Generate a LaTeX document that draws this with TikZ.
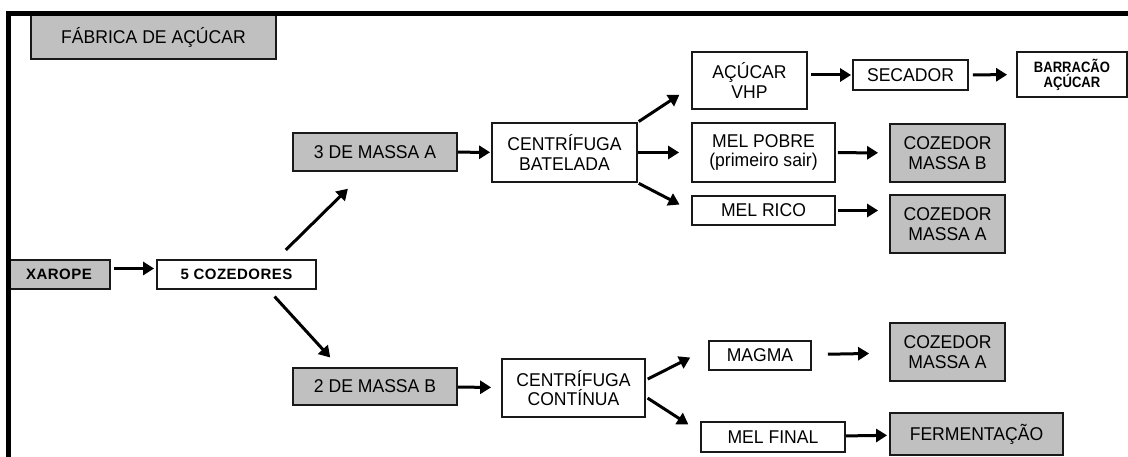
\documentclass[tikz,border=0pt]{standalone}
\usepackage{fontspec}
\setmainfont{Liberation Sans}[FakeStretch=0.95]
\newfontfamily\spacedsans[LetterSpace=3]{Liberation Sans}
\newfontfamily\narrowsans[FakeStretch=0.87]{Liberation Sans}
\usetikzlibrary{arrows.meta}
\usetikzlibrary{calc}
\definecolor{boxgrey}{RGB}{192,192,192}

\begin{document}
\begin{tikzpicture}[x=1pt, y=-1pt,
        box/.style={draw=black!90, line width=1.8pt, fill=white, inner sep=0pt, align=center,
            font=\fontsize{18.5}{19.5}\selectfont},
        greybox/.style={box, fill=boxgrey},
        smallbold/.style={font=\spacedsans\bfseries\fontsize{15}{18}\selectfont},
        flow/.style={line width=3pt, -{Triangle[length=11pt, width=13pt]}}]
        \useasboundingbox (0,0) rectangle (1128,457);

        \node[greybox, minimum width=245pt, minimum height=44pt] (titulo) at (153.5,37) {FÁBRICA DE AÇÚCAR};

        \node[greybox, smallbold, minimum width=102pt, minimum height=29pt] (xarope) at (59,274.5) {XAROPE};
        \node[box, smallbold, minimum width=159pt, minimum height=29pt] (cozedores) at (236.5,274.5) {5 COZEDORES};

        % ramo da massa A
        \node[greybox, minimum width=164pt, minimum height=38pt] (massaA) at (375,152) {3 DE MASSA A};
        \node[box, minimum width=145pt, minimum height=59pt] (batelada) at (564.5,152.5) {CENTRÍFUGA\\BATELADA};
        \node[box, minimum width=115pt, minimum height=57pt] (vhp) at (749.5,80.5) {AÇÚCAR\\VHP};
        \node[box, minimum width=115pt, minimum height=30pt] (secador) at (910.5,75) {SECADOR};
        \node[box, font=\narrowsans\bfseries\fontsize{15}{15}\selectfont, minimum width=110pt, minimum height=45pt] (barracao) at (1072,74.5) {BARRACÃO\\AÇÚCAR};
        \node[box, minimum width=143pt, minimum height=59pt] (melpobre) at (763.5,152.5) {MEL POBRE\\(primeiro sair)};
        \node[greybox, minimum width=115pt, minimum height=58pt] (cozB) at (947.5,153) {COZEDOR\\MASSA B};
        \node[box, minimum width=143pt, minimum height=29pt] (melrico) at (763.5,210.5) {MEL RICO};
        \node[greybox, minimum width=115pt, minimum height=58pt] (cozA) at (947.5,224) {COZEDOR\\MASSA A};

        % ramo da massa B
        \node[greybox, minimum width=164pt, minimum height=37pt] (massaB) at (375,386.5) {2 DE MASSA B};
        \node[box, minimum width=143pt, minimum height=58pt] (continua) at (573.5,388) {CENTRÍFUGA\\CONTÍNUA};
        \node[box, minimum width=102pt, minimum height=29pt] (magma) at (760,355.5) {MAGMA};
        \node[greybox, minimum width=115pt, minimum height=58pt] (cozAbis) at (947.5,352) {COZEDOR\\MASSA A};
        \node[box, minimum width=144pt, minimum height=30pt] (melfinal) at (773,437) {MEL FINAL};
        \node[greybox, minimum width=173pt, minimum height=42pt] (fermentacao) at (976.5,434) {FERMENTAÇÃO};

        \draw[flow, shorten <=3pt, shorten >=2pt] ([yshift=6pt]xarope.east) -- ([yshift=6pt]cozedores.west);
        \draw[flow, shorten <=13pt, shorten >=24pt] ($(cozedores.north)+(40,0)$) -- ($(massaA.south)+(-10,0)$);
        \draw[flow, shorten <=9pt, shorten >=13pt] ($(cozedores.south)+(32,0)$) -- ($(massaB.north)+(-36,0)$);

        \draw[flow, shorten >=1pt] (massaA) -- (batelada);
        \draw[flow, shorten <=1pt, shorten >=14pt] (batelada.north east) -- ([yshift=-6.5pt]vhp.west);
        \draw[flow, shorten >=12pt] (batelada) -- (melpobre);
        \draw[flow, shorten <=1pt, shorten >=13pt] (batelada.south east) -- (melrico.west);
        \draw[flow, shorten <=3pt, shorten >=1pt] (vhp.east |- secador) -- (secador);
        \draw[flow, shorten <=4pt, shorten >=9pt] (secador) -- (barracao);
        \draw[flow, shorten <=2pt, shorten >=11pt] (melpobre) -- (cozB);
        \draw[flow, shorten <=2pt, shorten >=11pt] (melrico.east) -- (melrico.east -| cozA.west);

        \draw[flow, shorten >=10pt] (massaB) -- (continua);
        \draw[flow, shorten <=2pt, shorten >=20pt] ([yshift=8pt]continua.east) -- ([yshift=7pt]magma.west);
        \draw[flow, shorten <=2pt, shorten >=14pt] ([yshift=-9pt]continua.east) -- ([yshift=5pt]melfinal.west);
        \draw[flow, shorten <=16pt, shorten >=20pt] (magma) -- (cozAbis);
        \draw[flow, shorten >=2pt] (melfinal) -- (fermentacao);

        \draw[line width=5pt] (1128,13.5) -- (8.5,13.5) -- (8.5,457);
    \end{tikzpicture}
\end{document}
